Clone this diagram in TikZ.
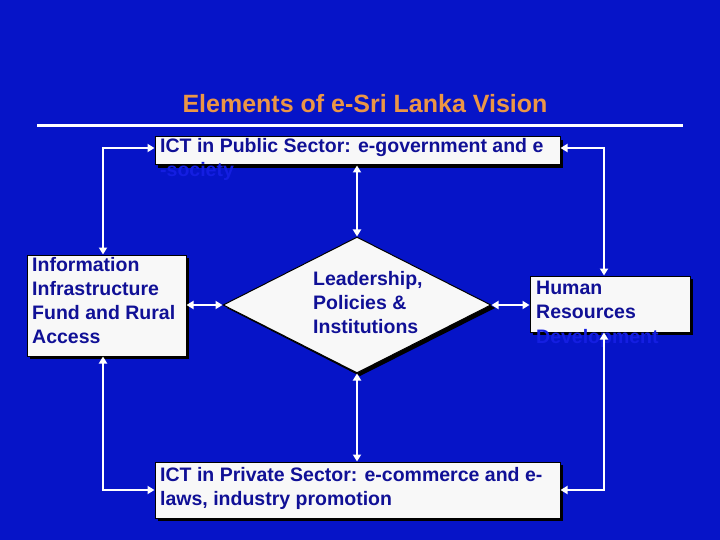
\documentclass[tikz,border=0pt]{standalone}
\usepackage{fontspec}
\setmainfont{Liberation Sans}
\usetikzlibrary{shapes.geometric,arrows.meta}
\definecolor{bg}{RGB}{6,20,200}
\definecolor{dtxt}{RGB}{16,16,150}
\definecolor{ghost}{RGB}{20,30,225}
\definecolor{ttl}{RGB}{235,150,70}
\definecolor{boxf}{RGB}{248,248,248}
\begin{document}
\begin{tikzpicture}[x=1pt,y=-1pt,
  bx/.style={draw=black,line width=1pt,fill=boxf,inner sep=0pt},
  lbl/.style={anchor=north west,font=\bfseries\fontsize{19.5}{24}\selectfont,text=dtxt,align=left,inner sep=0pt},
  ghostlbl/.style={anchor=north west,font=\bfseries\fontsize{19.5}{24}\selectfont,text=ghost,inner sep=0pt},
  con/.style={draw=white,line width=2.2pt,{Triangle[width=8pt,length=7pt]}-{Triangle[width=8pt,length=7pt]}}]
\fill[bg] (0,0) rectangle (720,540);
\useasboundingbox (0,0) rectangle (720,540);
\node[text=ttl,font=\fontsize{25}{28}\selectfont,xscale=1.0] (title) at (365,104) {\textbf{Elements of e-Sri Lanka Vision}};
\draw[white,line width=3pt] (37,126) -- (683,126);
% shadows
\fill[black] (158,140) rectangle (563,168);
\fill[black] (30,258) rectangle (189,359);
\fill[black] (533,279) rectangle (693,335);
\fill[black] (158,465) rectangle (563,521);
\fill[black] (360,240) -- (495,308) -- (360,376) -- (227,308) -- cycle;
% boxes
\node[bx,minimum width=405pt,minimum height=28pt] (pub) at (357.5,151) {};
\node[bx,minimum width=159pt,minimum height=101pt] (inf) at (106.5,305.5) {};
\node[bx,minimum width=160pt,minimum height=56pt] (hr) at (610,304) {};
\node[bx,minimum width=405pt,minimum height=56pt] (priv) at (357.5,490) {};
\node[draw=black,line width=1pt,fill=boxf,diamond,minimum width=268pt,minimum height=136pt,inner sep=0pt,aspect=2] (lead) at (357,305) {};
% texts
\node[lbl] (t1) at (160,138) {ICT in Public Sector: e-government and e};
\node[ghostlbl] (t1b) at (160,162) {-society};
\node[lbl] (t2) at (32,257) {Information\\Infrastructure\\Fund and Rural\\Access};
\node[lbl] (t3) at (313,271) {Leadership,\\Policies \&\\Institutions};
\node[lbl] (t4) at (536,281) {Human\\Resources};
\node[ghostlbl] (t4b) at (536,329) {Development};
\node[lbl] (t5) at (160,467) {ICT in Private Sector: e-commerce and e-\\laws, industry promotion};
% connectors
\coordinate (c1) at (103,148); \coordinate (c2) at (604,148);
\coordinate (c3) at (103,490); \coordinate (c4) at (604,490);
\draw[con] (pub.west |- 0,148) -- (c1) -- (inf.north -| c1);
\draw[con] (pub.east |- 0,148) -- (c2) -- (hr.north -| c2);
\draw[con] (inf.south -| c3) -- (c3) -- (priv.west);
\draw[con] (hr.south -| c4) -- (c4) -- (priv.east);
\draw[con] (pub.south -| lead.north) -- (lead.north);
\draw[con] (lead.south) -- (priv.north -| lead.south);
\draw[con] (inf.east |- lead.west) -- (lead.west);
\draw[con] (lead.east) -- (hr.west |- lead.east);
\end{tikzpicture}
\end{document}
